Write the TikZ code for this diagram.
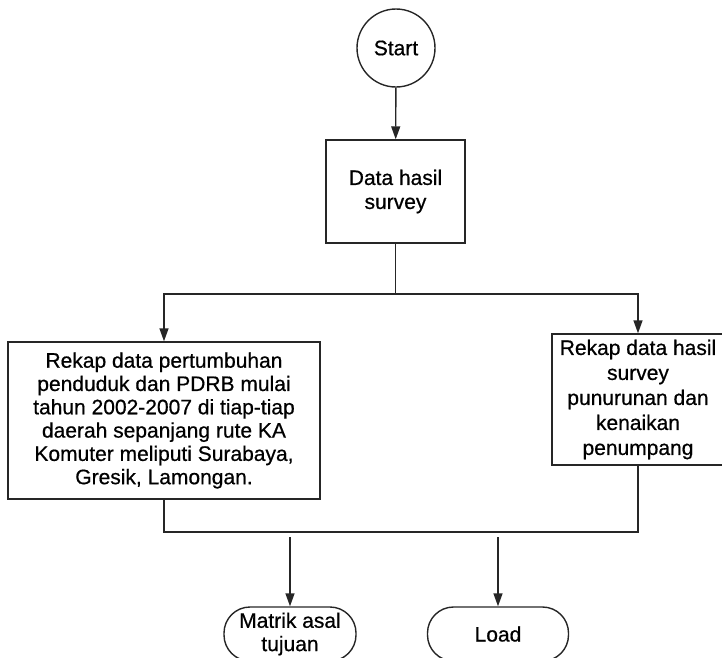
\documentclass[tikz,border=0pt]{standalone}
\usepackage{fontspec}
\setmainfont{Liberation Sans}[BoldFont=Liberation Sans, BoldFeatures={FakeBold=0.6}]
\usetikzlibrary{arrows.meta}
\begin{document}
\begin{tikzpicture}[x=1pt,y=-1pt,
  every node/.style={font=\fontsize{21}{23.3}\selectfont\bfseries, inner sep=0pt},
  ln/.style={line width=1.4pt, draw=black!85},
  arr/.style={ln, -{Triangle[length=13pt,width=9pt]}},
  procbox/.style={ln, rectangle, align=center},
  pill/.style={ln, rectangle, rounded corners=26pt, align=center, minimum height=54pt}]
\useasboundingbox (0,0) rectangle (722,657);
\node[ln, circle, minimum size=78pt] (start) at (396,48) {Start};
\node[procbox, minimum width=139pt, minimum height=103pt,
      font=\fontsize{21}{24}\selectfont\bfseries] (data) at (395.5,191.5) {Data hasil\\survey};
\coordinate (split) at (395.5,294);
\node[procbox, minimum width=312pt, minimum height=157pt] (left) at (164,420.5)
  {Rekap data pertumbuhan\\penduduk dan PDRB mulai\\tahun 2002-2007 di tiap-tiap\\daerah sepanjang rute KA\\Komuter meliputi Surabaya,\\Gresik, Lamongan.};
\node[procbox, minimum width=172pt, minimum height=131pt,
      font=\fontsize{21}{25}\selectfont\bfseries] (right) at (638,399.5)
  {Rekap data hasil\\survey\\punurunan dan\\kenaikan\\penumpang};
\coordinate (mL) at (164,532);
\coordinate (mR) at (638,532);
\coordinate (a1) at (290,537);
\coordinate (a2) at (498,537);
\node[pill, minimum width=132pt] (mat) at (290,634) {Matrik asal\\tujuan};
\node[pill, minimum width=141pt] (load) at (498,634) {Load};
\draw[arr] (start) -- (data);
\draw[ln] (data) -- (split);
\draw[arr] (split) -| (left);
\draw[arr] (split) -| (right);
\draw[ln] (left) -- (mL) -- (mR) -- (right);
\draw[arr] (a1) -- (mat);
\draw[arr] (a2) -- (load);
\end{tikzpicture}
\end{document}
